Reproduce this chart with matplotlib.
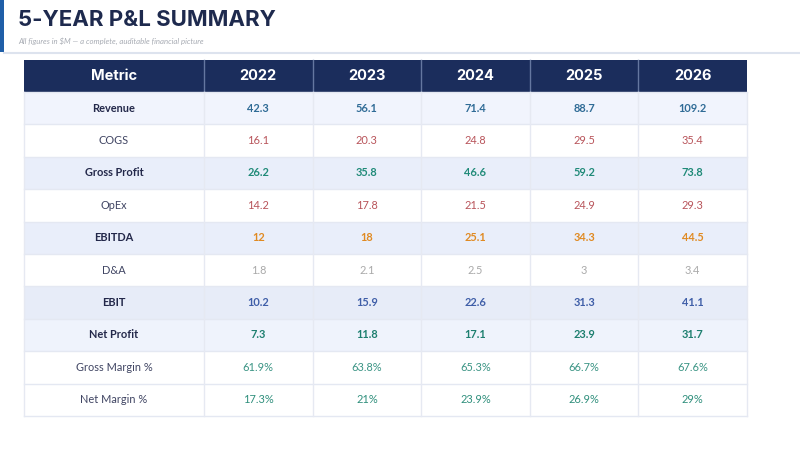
import matplotlib.pyplot as plt
from matplotlib.patches import Rectangle

# Table data
years = ['2022', '2023', '2024', '2025', '2026']
metrics = ['Revenue', 'COGS', 'Gross Profit', 'OpEx', 'EBITDA', 'D&A',
           'EBIT', 'Net Profit', 'Gross Margin %', 'Net Margin %']
revenue = ['42.3', '56.1', '71.4', '88.7', '109.2']
cogs = ['16.1', '20.3', '24.8', '29.5', '35.4']
gross_profit = ['26.2', '35.8', '46.6', '59.2', '73.8']
opex = ['14.2', '17.8', '21.5', '24.9', '29.3']
ebitda = ['12', '18', '25.1', '34.3', '44.5']
da = ['1.8', '2.1', '2.5', '3', '3.4']
ebit = ['10.2', '15.9', '22.6', '31.3', '41.1']
net_profit = ['7.3', '11.8', '17.1', '23.9', '31.7']
gross_margin = ['61.9%', '63.8%', '65.3%', '66.7%', '67.6%']
net_margin = ['17.3%', '21%', '23.9%', '26.9%', '29%']
rows = [revenue, cogs, gross_profit, opex, ebitda, da, ebit, net_profit,
        gross_margin, net_margin]

# styling per row
bold_rows = [True, False, True, False, True, False, True, True, False, False]
row_bg = ['#f1f4fd', '#ffffff', '#e9eefa', '#ffffff', '#e9eefa', '#ffffff',
          '#e7ecf8', '#eff3fc', '#ffffff', '#ffffff']
val_colors = ['#2f6b96', '#b8545a', '#1f8a78', '#b8545a', '#e08a22', '#a9a9a9',
              '#3f5ea8', '#1d7f6f', '#3a9484', '#2f8f7c']

navy = '#1b2d5c'
title_col = '#1e2a4e'

fig = plt.figure(figsize=(8, 4.5), dpi=100)
ax = fig.add_axes([0, 0, 1, 1])
ax.set_xlim(0, 800)
ax.set_ylim(450, 0)
ax.axis('off')

# header band
ax.add_patch(Rectangle((0, 0), 4, 52, color='#1f5fa8', lw=0))
ax.plot([4, 800], [52.5, 52.5], color='#dde3ee', lw=1.5)
ax.text(18, 20, '5-YEAR P&L SUMMARY', fontsize=16, fontweight='bold',
        color=title_col, family=['Inter', 'DejaVu Sans'], va='center', ha='left')
ax.text(18, 41.5, 'All figures in $M \u2014 a complete, auditable financial picture',
        fontsize=5.6, style='italic', color='#a7abb3', family=['Lato', 'DejaVu Sans'],
        va='center', ha='left')

# table geometry
x0, x_first, x1 = 24, 204, 747
col_w = (x1 - x_first) / len(years)
head_top, head_h = 60, 32
row_h = 32.4
lefts = [x0] + [x_first + i * col_w for i in range(len(years))]
widths = [x_first - x0] + [col_w] * len(years)

# header
ax.add_patch(Rectangle((x0, head_top), x1 - x0, head_h, color=navy, lw=0))
headers = ['Metric'] + years
for j, h in enumerate(headers):
    if j > 0:
        ax.plot([lefts[j], lefts[j]], [head_top, head_top + head_h],
                color='#6577a0', lw=1)
    ax.text(lefts[j] + widths[j] / 2, head_top + head_h / 2 + 0.5, h,
            color='white', fontsize=10.5, fontweight='bold',
            family=['Inter', 'DejaVu Sans'], ha='center', va='center')

# body
body_font = ['Lato', 'DejaVu Sans']
for i, (name, vals) in enumerate(zip(metrics, rows)):
    top = head_top + head_h + i * row_h
    ax.add_patch(Rectangle((x0, top), x1 - x0, row_h, color=row_bg[i], lw=0))
    wt = 'bold' if bold_rows[i] else 'normal'
    cy = top + row_h / 2
    ax.text(lefts[0] + widths[0] / 2, cy, name, fontsize=7.9, fontweight=wt,
            color='#23284a' if bold_rows[i] else '#404563', family=body_font,
            ha='center', va='center')
    for j, v in enumerate(vals):
        ax.text(lefts[j + 1] + widths[j + 1] / 2, cy, v, fontsize=7.9,
                fontweight=wt, color=val_colors[i], family=body_font,
                ha='center', va='center')

# grid lines
body_bottom = head_top + head_h + len(metrics) * row_h
for i in range(len(metrics) + 1):
    y = head_top + head_h + i * row_h
    ax.plot([x0, x1], [y, y], color='#e4e8f2', lw=1)
for j in range(1, len(lefts)):
    ax.plot([lefts[j], lefts[j]], [head_top + head_h, body_bottom],
            color='#e6e9f2', lw=1)
ax.plot([x0, x0], [head_top + head_h, body_bottom], color='#e6e9f2', lw=1)
ax.plot([x1, x1], [head_top + head_h, body_bottom], color='#e6e9f2', lw=1)

fig.savefig('out.png', dpi=100)
